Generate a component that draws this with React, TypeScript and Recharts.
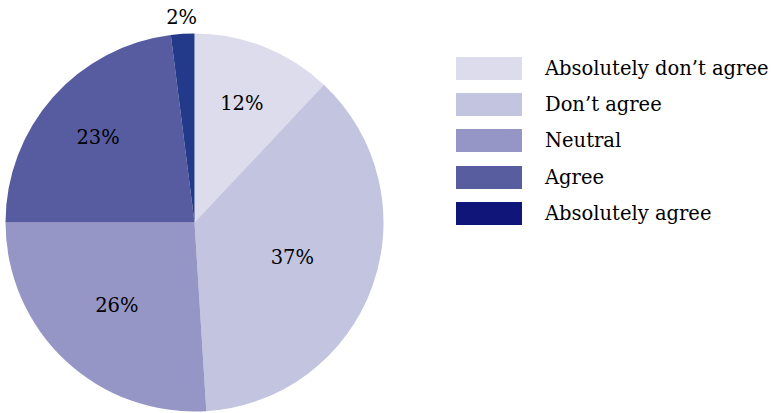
import React from 'react';
import { PieChart, Pie, Cell, Legend } from 'recharts';

const categories = ['Absolutely don\u2019t agree', 'Don\u2019t agree', 'Neutral', 'Agree', 'Absolutely agree'];
const shares = [12, 37, 26, 23, 2];

const sliceColors = ['#dcdcec', '#c3c4e0', '#9596c5', '#575ca0', '#233a8a'];
const legendColors = ['#dcdcec', '#c3c4e0', '#9596c5', '#585da0', '#10157a'];
// label distance from centre, as a share of the radius (Excel "best fit" look)
const labelDist = [0.68, 0.55, 0.6, 0.68, 1.085];

const FONT = '"DejaVu Serif", serif';
const RAD = Math.PI / 180;

const data = categories.map((name, i) => ({ name, value: shares[i] }));

const renderLabel = (props: any) => {
  const { cx, cy, midAngle, outerRadius, index, value } = props;
  const r = outerRadius * labelDist[index];
  const x = cx + r * Math.cos(-midAngle * RAD);
  const y = cy + r * Math.sin(-midAngle * RAD);
  return (
    <text
      x={x}
      y={y}
      textAnchor="middle"
      dominantBaseline="central"
      fill="#000"
      fontFamily={FONT}
      fontSize={19.5}
    >
      {`${value}%`}
    </text>
  );
};

const renderLegend = () => (
  <div style={{ fontFamily: FONT, fontSize: 19.5, color: '#000' }}>
    {categories.map((c, i) => (
      <div key={c} style={{ display: 'flex', alignItems: 'center', height: 36.3 }}>
        <div style={{ width: 66, height: 23, background: legendColors[i], marginRight: 23 }} />
        <span style={{ whiteSpace: 'nowrap' }}>{c}</span>
      </div>
    ))}
  </div>
);

export default function App() {
  return (
    <div style={{ position: 'absolute', left: 0, top: 0, background: '#fff' }}>
      <PieChart width={772} height={413} margin={{ top: 0, right: 0, bottom: 0, left: 0 }}>
        <Pie
          data={data}
          dataKey="value"
          nameKey="name"
          cx={194.5}
          cy={222.5}
          outerRadius={189}
          startAngle={90}
          endAngle={-270}
          stroke="none"
          label={renderLabel}
          labelLine={false}
          isAnimationActive={false}
        >
          {data.map((d, i) => (
            <Cell key={d.name} fill={sliceColors[i]} />
          ))}
        </Pie>
        <Legend
          layout="vertical"
          content={renderLegend}
          wrapperStyle={{ position: 'absolute', left: 456, top: 50, width: 316 }}
        />
      </PieChart>
    </div>
  );
}
